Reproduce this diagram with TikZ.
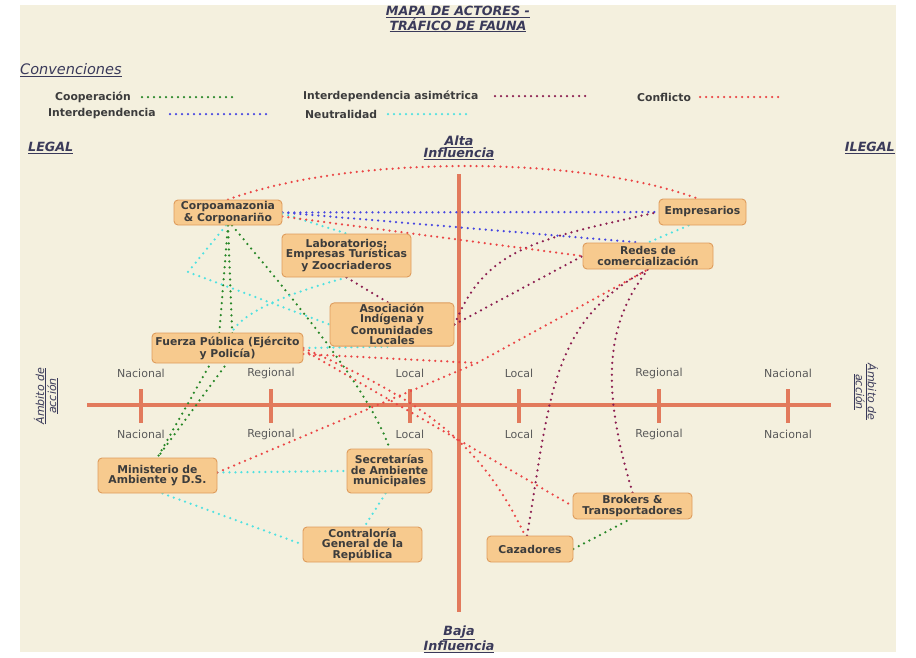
\documentclass[tikz,border=0pt]{standalone}
\usepackage{fontspec}
\setmainfont{DejaVu Sans}[ItalicFont={DejaVu Sans Oblique},BoldFont={DejaVu Sans Bold},BoldItalicFont={DejaVu Sans Bold Oblique}]
\definecolor{fondo}{RGB}{244,240,222}
\definecolor{eje}{RGB}{226,122,92}
\definecolor{caja}{RGB}{247,202,142}
\definecolor{bordecaja}{RGB}{222,156,92}
\definecolor{textocaja}{RGB}{60,60,60}
\definecolor{titulo}{RGB}{58,58,90}
\definecolor{gris}{RGB}{90,90,90}
\definecolor{verde}{RGB}{40,135,40}
\definecolor{granate}{RGB}{140,30,80}
\definecolor{rojo}{RGB}{235,70,70}
\definecolor{azul}{RGB}{70,70,225}
\definecolor{cian}{RGB}{80,225,225}
\pgfdeclarelayer{capafondo}
\pgfdeclarelayer{capalineas}
\pgfsetlayers{capafondo,capalineas,main}
\tikzset{
  actor/.style={draw=bordecaja, fill=caja, rounded corners=4pt, line width=0.9pt,
    align=center, text=textocaja, inner sep=1pt,
    font=\fontsize{10.8}{10.4}\selectfont\bfseries},
  punteado/.style={line width=2.5pt, line cap=round, dash pattern=on 0pt off 6pt},
  coop/.style={punteado, verde},
  asim/.style={punteado, granate},
  confl/.style={punteado, rojo},
  interd/.style={punteado, azul},
  neutral/.style={punteado, cian},
  escala/.style={font=\fontsize{11}{11}\selectfont, text=gris, inner sep=0pt},
  rotulo/.style={font=\fontsize{12.7}{12}\selectfont\bfseries\itshape, text=titulo, align=center, inner sep=0pt},
  leyenda/.style={font=\fontsize{10.8}{11}\selectfont\bfseries, text=textocaja, anchor=west, inner sep=0pt},
  ejelinea/.style={eje, line width=3.6pt},
}
\begin{document}
\begin{tikzpicture}[x=1pt,y=-1pt]
\useasboundingbox (0,0) rectangle (916,657);
\begin{pgfonlayer}{capafondo}
  \fill[fondo] (20,5) rectangle (896,652);
  \draw[ejelinea] (459,174) -- (459,612);
  \draw[ejelinea] (87,405) -- (831,405);
  \foreach \x in {141,271,410,519,659,788}
    \draw[ejelinea] (\x,389) -- (\x,423);
\end{pgfonlayer}

% titulos
\node[rotulo] (titulo) at (458,19) {\underline{MAPA DE ACTORES -}\\\underline{TRÁFICO DE FAUNA}};
\node[font=\fontsize{14.5}{14}\selectfont\itshape, text=titulo, anchor=west, inner sep=0pt] (conv) at (20,70) {\underline{Convenciones}};
\node[rotulo, anchor=west] (legal) at (28,148) {\underline{LEGAL}};
\node[rotulo, anchor=east] (ilegal) at (895,148) {\underline{ILEGAL}};
\node[rotulo] (alta) at (459,148) {\underline{Alta}\\\underline{Influencia}};
\node[rotulo] (baja) at (459,639) {\underline{Baja}\\\underline{Influencia}};
\node[rotulo, font=\fontsize{11}{12}\selectfont\itshape, rotate=90] (ambizq) at (46,396) {\underline{Ámbito de}\\\underline{acción}};
\node[rotulo, font=\fontsize{11}{12}\selectfont\itshape, rotate=-90] (ambder) at (866,392) {\underline{Ámbito de}\\\underline{acción}};

% leyenda
\node[leyenda] (lcoop) at (55,97) {Cooperación};
\node[leyenda] (lasim) at (303,96) {Interdependencia asimétrica};
\node[leyenda] (lconfl) at (637,97) {Conflicto};
\node[leyenda] (linterd) at (48,114) {Interdependencia};
\node[leyenda] (lneutral) at (305,114) {Neutralidad};
\draw[coop] (142,97) -- (235,97);
\draw[asim] (495,96) -- (585,96);
\draw[confl] (700,97) -- (782,97);
\draw[interd] (170,114) -- (266,114);
\draw[neutral] (388,114) -- (470,114);

% escala
\foreach \x/\t in {141/Nacional,271/Regional,410/Local,519/Local,659/Regional,788/Nacional} {
  \node[escala] (sup\x) at (\x,373) {\t};
  \node[escala] (inf\x) at (\x,434) {\t};
}

% actores
\node[actor, minimum width=108pt, minimum height=25pt] (corpo) at (228,212.5) {Corpoamazonia\\\& Corponariño};
\node[actor, minimum width=129pt, minimum height=43pt] (lab) at (346.5,255.5) {Laboratorios;\\Empresas Turísticas\\y Zoocriaderos};
\node[actor, minimum width=124pt, minimum height=43pt] (asoc) at (392,324.5) {Asociación\\Indígena y\\Comunidades\\Locales};
\node[actor, minimum width=151pt, minimum height=30pt] (fp) at (227.5,348) {Fuerza Pública (Ejército\\y Policía)};
\node[actor, minimum width=87pt, minimum height=26pt] (empr) at (702.5,212) {Empresarios};
\node[actor, minimum width=130pt, minimum height=26pt] (redes) at (648,256) {Redes de\\comercialización};
\node[actor, minimum width=119pt, minimum height=35pt] (min) at (157.5,475.5) {Ministerio de\\Ambiente y D.S.};
\node[actor, minimum width=85pt, minimum height=44pt] (secr) at (389.5,471) {Secretarías\\de Ambiente\\municipales};
\node[actor, minimum width=119pt, minimum height=35pt] (contr) at (362.5,544.5) {Contraloría\\General de la\\República};
\node[actor, minimum width=119pt, minimum height=26pt] (brok) at (632.5,506) {Brokers \&\\Transportadores};
\node[actor, minimum width=86pt, minimum height=26pt] (caz) at (530,549) {Cazadores};

\begin{pgfonlayer}{capalineas}
  \coordinate (quiebre) at (188,272);
  \coordinate (cruce) at (477,363);
  % cooperacion
  \draw[coop] (corpo.south) -- (218,350) -- (min.north);
  \draw[coop] (corpo.south) -- (233,355) -- (min.north);
  \draw[coop] ([xshift=4pt]corpo.south) .. controls (290,295) and (370,390) .. (secr.north);
  \draw[coop] (caz.east) -- ([xshift=-3pt]brok.south);
  % interdependencia
  \draw[interd] (corpo.east) -- (empr.west);
  \draw[interd] (corpo.east) -- ([xshift=-8pt]redes.north);
  % neutralidad
  \draw[neutral] ([xshift=-14pt]empr.south) -- (redes.north);
  \draw[neutral] ([yshift=-1pt]corpo.east) -- (lab.north);
  \draw[neutral] ([xshift=-2pt]corpo.south) -- (quiebre) -- (asoc.west);
  \draw[neutral] (lab.south) .. controls (290,293) and (245,310) .. ([xshift=4pt]fp.north);
  \draw[neutral] (fp.east) -- (asoc.south);
  \draw[neutral] ([yshift=3pt]min.east) -- (secr.west);
  \draw[neutral] ([xshift=5pt]min.south) -- (contr.west);
  \draw[neutral] ([xshift=-4pt]secr.south) -- ([xshift=2pt]contr.north);
  % interdependencia asimetrica
  \draw[asim] (lab.south) -- ([xshift=-4pt]asoc.north);
  \draw[asim] (asoc.east) .. controls (485,250) and (530,240) .. (empr.west);
  \draw[asim] (asoc.east) -- (redes.west);
  \draw[asim] ([xshift=-3pt]caz.north) .. controls (550,400) and (550,320) .. (redes.south);
  \draw[asim] (brok.north) .. controls (605,400) and (600,330) .. (redes.south);
  % conflicto
  \draw[confl] (corpo.north) .. controls (350,155) and (580,155) .. ([xshift=-5pt]empr.north);
  \draw[confl] ([yshift=-4pt]corpo.east) -- (redes.west);
  \draw[confl] ([yshift=3pt]min.east) -- (cruce) -- (redes.south);
  \draw[confl] ([yshift=-6pt]fp.east) -- (cruce);
  \draw[confl] ([yshift=-2pt]fp.east) -- (brok.west);
  \draw[confl] (fp.east) .. controls (420,400) and (480,440) .. ([xshift=-5pt]caz.north);
\end{pgfonlayer}
\end{tikzpicture}
\end{document}
